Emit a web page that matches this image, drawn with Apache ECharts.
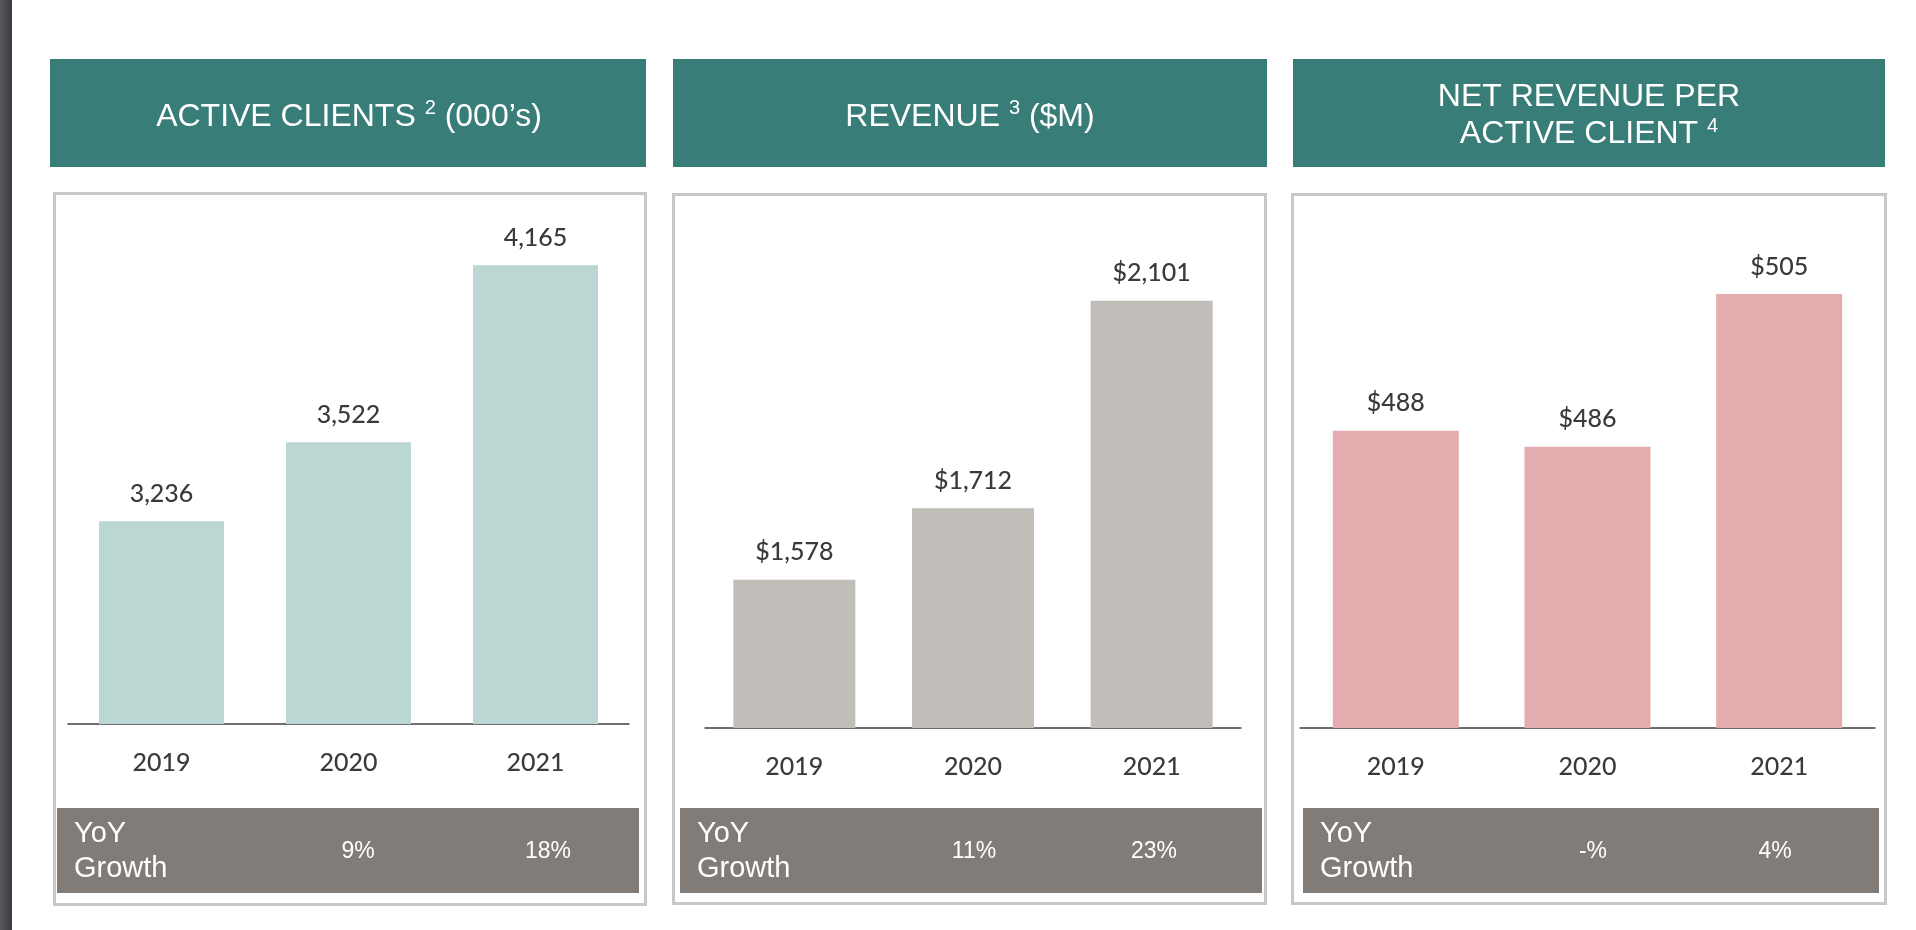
<!DOCTYPE html>
<html>
<head>
<meta charset="utf-8">
<script src="https://cdn.jsdelivr.net/npm/echarts@6/dist/echarts.min.js"></script>
<style>
html,body{margin:0;padding:0;background:#ffffff;overflow:hidden}
#c{width:1916px;height:930px}
</style>
</head>
<body>
<div id="c"></div>
<script>
// ---------- data ----------
const years = ['2019', '2020', '2021'];
const activeClients = [3236, 3522, 4165];          // 000's
const revenue = [1578, 1712, 2101];                // $M
const netRevenuePerClient = [488, 486, 505];       // $
const growthClients = ['9%', '18%'];
const growthRevenue = ['11%', '23%'];
const growthNetRevenue = ['-%', '4%'];
const growthRowLabel = 'YoY\nGrowth';
const headerClients = ['ACTIVE CLIENTS ', '2', ' (000\u2019s)'];
const headerRevenue = ['REVENUE ', '3', ' ($M)'];
const headerNetRevenue = ['NET REVENUE PER\nACTIVE CLIENT ', '4', ''];

// ---------- styling / layout ----------
const TEAL = '#387d78';
const BAND = '#827c78';
const BORDER = '#c8c8c8';
const LABEL_FONT = 'Lato, "Open Sans", sans-serif';
const HEAD_FONT = '"Liberation Sans", Arial, sans-serif';
const TEXT_DARK = '#3a3a3a';

const fmtComma = v => v.toLocaleString('en-US');

const panels = [
  {
    data: activeClients, growth: growthClients, header: headerClients,
    fmt: p => fmtComma(p.value),
    color: '#bbd7d3', barWidth: 125,
    headerRect: [50, 59, 596, 108], headerCenter: [349, 117],
    boxRect: [54.5, 193.5, 591, 711],
    bandRect: [57, 808, 582, 85], yoyX: 74, growthX: [358, 548],
    grid: { left: 68, top: 200.4, width: 561, height: 523.6 }, yMin: 2500, yMax: 4400
  },
  {
    data: revenue, growth: growthRevenue, header: headerRevenue,
    fmt: p => '$' + fmtComma(p.value),
    color: '#c1bdb9', barWidth: 122,
    headerRect: [673, 59, 594, 108], headerCenter: [970, 117],
    boxRect: [673.5, 194.5, 592, 709],
    bandRect: [680, 808, 582, 85], yoyX: 697, growthX: [974, 1154],
    grid: { left: 705, top: 194.5, width: 536, height: 533.5 }, yMin: 1300, yMax: 2300
  },
  {
    data: netRevenuePerClient, growth: growthNetRevenue, header: headerNetRevenue,
    fmt: p => '$' + fmtComma(p.value),
    color: '#e3acae', barWidth: 126,
    headerRect: [1293, 59, 592, 108], headerCenter: [1589, 116],
    boxRect: [1292.5, 194.5, 593, 709],
    bandRect: [1303, 808, 576, 85], yoyX: 1320, growthX: [1593, 1775],
    grid: { left: 1300, top: 197.7, width: 575, height: 530.3 }, yMin: 451, yMax: 517
  }
];

const graphics = [
  { type: 'rect', shape: { x: 0, y: 0, width: 12, height: 930 }, z: 0,
    style: { fill: new echarts.graphic.LinearGradient(0, 0, 1, 0, [
      { offset: 0, color: '#56585d' }, { offset: 1, color: '#3a3b3e' }]) } }
];

panels.forEach(p => {
  const [hx, hy, hw, hh] = p.headerRect;
  graphics.push({ type: 'rect', shape: { x: hx, y: hy, width: hw, height: hh }, z: 0, style: { fill: TEAL } });
  graphics.push({
    type: 'text', x: p.headerCenter[0], y: p.headerCenter[1], z: 10,
    style: {
      text: '{a|' + p.header[0].split('\n').join('}\n{a|') + '}{s|' + p.header[1] + '}' + (p.header[2] ? '{a|' + p.header[2] + '}' : ''),
      align: 'center', verticalAlign: 'middle',
      rich: {
        a: { fontFamily: HEAD_FONT, fontSize: 32, lineHeight: 37, fill: '#ffffff', color: '#ffffff' },
        s: { fontFamily: HEAD_FONT, fontSize: 20, lineHeight: 20, fill: '#ffffff', color: '#ffffff', verticalAlign: 'top' }
      }
    }
  });
  const [bx, by, bw, bh] = p.boxRect;
  graphics.push({ type: 'rect', shape: { x: bx, y: by, width: bw, height: bh }, z: 0,
    style: { fill: '#ffffff', stroke: BORDER, lineWidth: 3 } });
  const [gx, gy, gw, gh] = p.bandRect;
  graphics.push({ type: 'rect', shape: { x: gx, y: gy, width: gw, height: gh }, z: 0, style: { fill: BAND } });
  graphics.push({
    type: 'text', x: p.yoyX, y: 851, z: 10,
    style: { text: growthRowLabel, fontFamily: HEAD_FONT, fontSize: 29, lineHeight: 35,
      fill: '#ffffff', align: 'left', verticalAlign: 'middle' }
  });
  p.growth.forEach((g, i) => {
    graphics.push({
      type: 'text', x: p.growthX[i], y: 852, z: 10,
      style: { text: g, fontFamily: HEAD_FONT, fontSize: 23, fill: '#ffffff', align: 'center', verticalAlign: 'middle' }
    });
  });
});

const option = {
  animation: false,
  backgroundColor: '#ffffff',
  graphic: { elements: graphics },
  grid: panels.map(p => Object.assign({ containLabel: false }, p.grid)),
  xAxis: panels.map((p, i) => ({
    type: 'category', gridIndex: i, data: years,
    axisLine: { show: true, lineStyle: { color: '#404040', width: 1.5 } },
    axisTick: { show: false },
    axisLabel: { fontFamily: LABEL_FONT, fontSize: 25, fontWeight: 500, color: TEXT_DARK, margin: 26 },
    splitLine: { show: false }
  })),
  yAxis: panels.map((p, i) => ({
    type: 'value', gridIndex: i, min: p.yMin, max: p.yMax, show: false,
    splitLine: { show: false }
  })),
  series: panels.map((p, i) => ({
    type: 'bar', xAxisIndex: i, yAxisIndex: i, data: p.data,
    barWidth: p.barWidth, z: 3,
    itemStyle: { color: p.color },
    label: { show: true, position: 'top', distance: 15, formatter: p.fmt,
      fontFamily: LABEL_FONT, fontSize: 25, fontWeight: 500, color: TEXT_DARK }
  }))
};

const chart = echarts.init(document.getElementById('c'));
chart.setOption(option);
</script>
</body>
</html>
